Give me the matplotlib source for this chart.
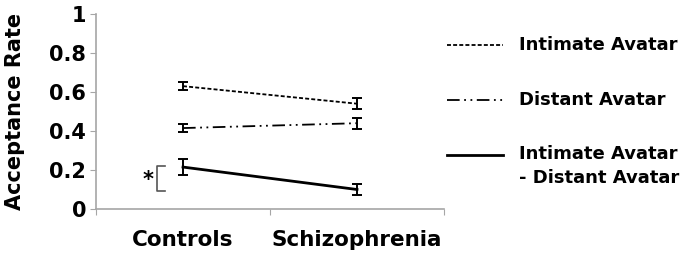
import numpy as np
import matplotlib
matplotlib.use("Agg")
import matplotlib.pyplot as plt
from matplotlib.lines import Line2D

# ── Data ──────────────────────────────────────────────────────────────────────
groups = ["Controls", "Schizophrenia"]
intimate = [0.63, 0.54]
intimate_err = [0.02, 0.028]
distant = [0.415, 0.44]
distant_err = [0.022, 0.028]
diff = [0.215, 0.10]
diff_err = [0.04, 0.03]
yticks = [0, 0.2, 0.4, 0.6, 0.8, 1]
ytick_labels = ["0", "0.2", "0.4", "0.6", "0.8", "1"]
legend_labels = ["Intimate Avatar", "Distant Avatar", "Intimate Avatar\n- Distant Avatar"]

plt.rcParams["font.family"] = "DejaVu Sans"
plt.rcParams["font.weight"] = "bold"

AX_GREY = "#a6a6a6"
styles = [
    dict(ls=(0, (2.2, 1.2)), lw=1.3),
    dict(ls=(0, (7, 2.5, 1, 2.5, 1, 2.5)), lw=1.3),
    dict(ls="-", lw=2.0),
]

fig = plt.figure(figsize=(6.86, 2.56), dpi=100)
ax = fig.add_axes([96 / 686, 1 - 209 / 256, 348 / 686, 195 / 256])

x = np.array([0.5, 1.5])
for vals, errs, st in zip([intimate, distant, diff],
                          [intimate_err, distant_err, diff_err], styles):
    ax.plot(x, vals, color="black", **st)
    ax.errorbar(x, vals, yerr=errs, fmt="none", ecolor="black",
                elinewidth=1.4, capsize=3.5, capthick=1.4)

# significance bracket
ax.plot([0.397, 0.35, 0.35, 0.397], [0.22, 0.22, 0.09, 0.09],
        color="#555555", lw=1.2)
ax.text(0.30, 0.15, "*", fontsize=15, ha="center", va="center")

ax.set_xlim(0, 2)
ax.set_ylim(0, 1)
ax.set_yticks(yticks)
ax.set_yticklabels(ytick_labels, fontsize=15, fontweight="bold")
ax.set_xticks([0, 1, 2])
ax.set_xticklabels([])
ax.set_xticks(x, minor=True)
ax.set_xticklabels(groups, minor=True, fontsize=15.5, fontweight="bold")
ax.tick_params(axis="x", which="minor", length=0, pad=15)
ax.tick_params(axis="x", which="major", length=4, color=AX_GREY)
ax.tick_params(axis="y", length=4, color=AX_GREY, pad=3)
ax.set_ylabel("Acceptance Rate", fontsize=15, fontweight="bold")
ax.yaxis.set_label_coords(-0.205, 0.5)
for s in ["top", "right"]:
    ax.spines[s].set_visible(False)
for s in ["left", "bottom"]:
    ax.spines[s].set_color(AX_GREY)
    ax.spines[s].set_linewidth(1.2)

# ── Legend (drawn by hand so the handle lines up with the first text line) ──
rows_y = [1 - 45 / 256, 1 - 100 / 256, 1 - 155 / 256]
for yy, st, lab in zip(rows_y, styles, legend_labels):
    fig.add_artist(Line2D([447 / 686, 503 / 686], [yy, yy], color="black", **st))
    if "\n" in lab:
        fig.text(519 / 686, yy + 10 / 256, lab, fontsize=13, fontweight="bold",
                 va="top", linespacing=1.45)
    else:
        fig.text(519 / 686, yy, lab, fontsize=13, fontweight="bold", va="center")

fig.savefig("out.png", dpi=100, facecolor="white")
